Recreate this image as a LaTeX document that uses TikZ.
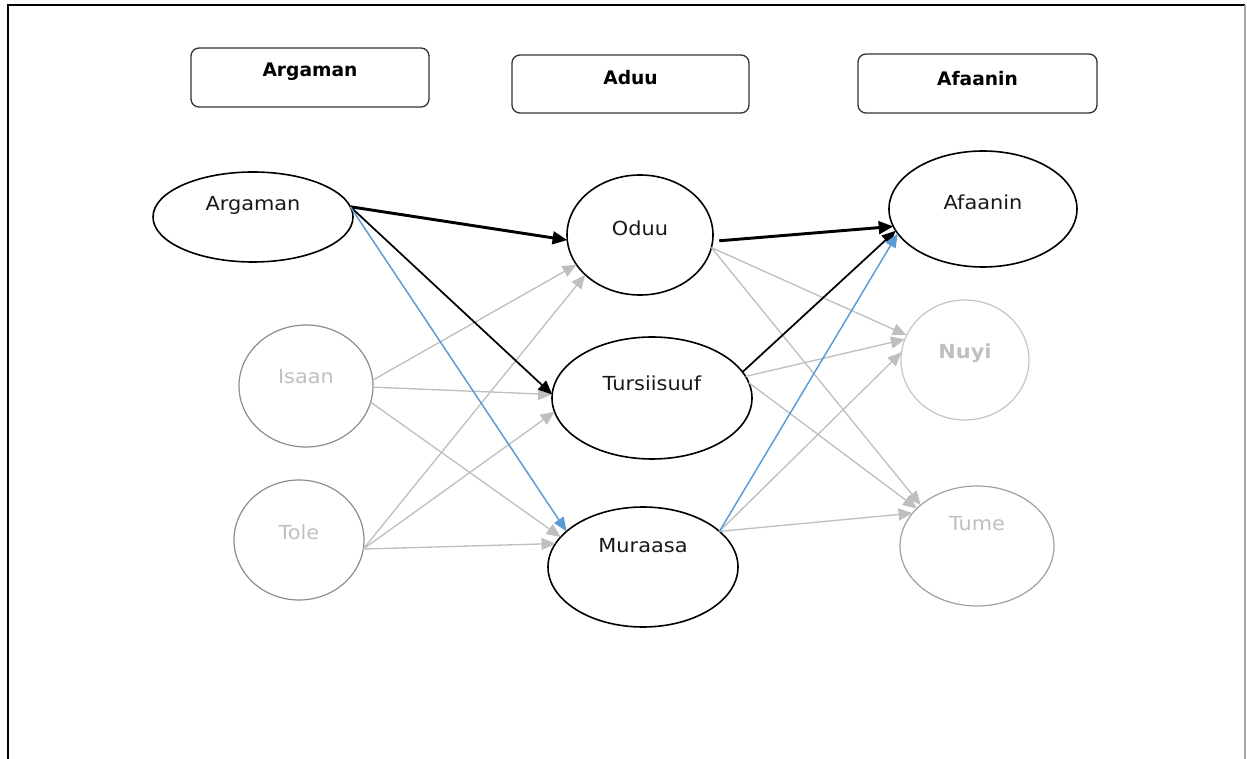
\documentclass[tikz,border=0pt]{standalone}
\usepackage{fontspec}
\usetikzlibrary{shapes.geometric,arrows.meta}
\newfontfamily\lblfont[FakeStretch=1.08]{DejaVu Sans}
\newfontfamily\hdrfont{DejaVu Sans}
\definecolor{linkgray}{HTML}{BFBFBF}
\definecolor{ringgray}{HTML}{8C8C8C}
\definecolor{palegray}{HTML}{C4C4C4}
\definecolor{tumegray}{HTML}{A0A0A0}
\definecolor{linkblue}{HTML}{5B9BD5}
\definecolor{framegray}{HTML}{A6A6A6}
\definecolor{hdrline}{HTML}{333333}

\begin{document}
\begin{tikzpicture}[x=0.75pt,y=-0.75pt,
  oval/.style={ellipse, draw=black, line width=1.2pt, inner sep=0pt, outer sep=0pt},
  paleoval/.style={oval, draw=ringgray, line width=0.9pt},
  hdrbox/.style={draw=hdrline, line width=1pt, rounded corners=6pt, inner sep=0pt, outer sep=0pt},
  lbl/.style={inner sep=0pt, font=\lblfont\fontsize{14.5}{17}\selectfont, text=black!90},
  palelbl/.style={lbl, text=linkgray},
  hdrlbl/.style={inner sep=0pt, font=\hdrfont\bfseries\fontsize{14}{16}\selectfont, text=black},
  heavy/.style={draw=black, line width=2.2pt, -{Triangle[length=11pt,width=9.5pt]}},
  dark/.style={draw=black, line width=1.3pt, -{Triangle[length=10.5pt,width=9pt]}},
  faint/.style={draw=linkgray, line width=1pt, -{Triangle[length=10.5pt,width=9pt]}},
  bluelink/.style={draw=linkblue, line width=1.1pt, -{Triangle[length=10.5pt,width=8.5pt]}}
]
\useasboundingbox (0,0) rectangle (1247,759);

% page frame
\draw[black, line width=1.1pt] (8,759) -- (8,5) -- (1245,5);
\draw[framegray, line width=0.8pt] (1245,5) -- (1245,759);

% column headers
\node[hdrbox, minimum width=238*0.75pt, minimum height=59*0.75pt,
      label={[hdrlbl, yshift=4pt]center:Argaman}] (hargaman) at (310,77.5) {};
\node[hdrbox, minimum width=237*0.75pt, minimum height=58*0.75pt,
      label={[hdrlbl, yshift=4.5pt]center:Aduu}] (haduu) at (630.5,84) {};
\node[hdrbox, minimum width=239*0.75pt, minimum height=59*0.75pt,
      label={[hdrlbl, yshift=3.75pt]center:Afaanin}] (hafaanin) at (977.5,83.5) {};

% left column
\node[oval, minimum width=200*0.75pt, minimum height=90*0.75pt,
      label={[lbl, yshift=9pt]center:Argaman}] (argaman) at (253,217) {};
\node[paleoval, minimum width=134*0.75pt, minimum height=122*0.75pt,
      label={[palelbl, yshift=6.75pt]center:Isaan}] (isaan) at (306,386) {};
\node[paleoval, minimum width=130*0.75pt, minimum height=120*0.75pt,
      label={[palelbl, yshift=6pt]center:Tole}] (tole) at (299,540) {};

% middle column
\node[oval, minimum width=146*0.75pt, minimum height=120*0.75pt,
      label={[lbl, yshift=5.25pt]center:Oduu}] (oduu) at (640,235) {};
\node[oval, minimum width=200*0.75pt, minimum height=122*0.75pt,
      label={[lbl, yshift=11.25pt]center:Tursiisuuf}] (tursiisuuf) at (652,398) {};
\node[oval, minimum width=190*0.75pt, minimum height=120*0.75pt,
      label={[lbl, yshift=15.75pt]center:Muraasa}] (muraasa) at (643,567) {};

% right column
\node[oval, minimum width=188*0.75pt, minimum height=116*0.75pt,
      label={[lbl, yshift=5.25pt]center:Afaanin}] (afaanin) at (983,209) {};
\node[paleoval, draw=palegray, minimum width=128*0.75pt, minimum height=120*0.75pt,
      label={[palelbl, yshift=5.25pt, font=\lblfont\bfseries\fontsize{14.5}{17}\selectfont]center:Nuyi}] (nuyi) at (965,360) {};
\node[paleoval, draw=tumegray, minimum width=154*0.75pt, minimum height=120*0.75pt,
      label={[palelbl, yshift=16.5pt]center:Tume}] (tume) at (977,546) {};

% faint links, left to middle
\draw[faint] (isaan.5) -- (oduu.205);
\draw[faint] (isaan.-1) -- (tursiisuuf.178);
\draw[faint] (isaan.-14) -- (muraasa.160);
\draw[faint] (tole.-8) -- (oduu.216);
\draw[faint] (tole.-8) -- (tursiisuuf.188);
\draw[faint] (tole.-8) -- (muraasa.165);

% faint links, middle to right
\draw[faint] (oduu.-10) -- (nuyi.157);
\draw[faint] (oduu.-10) -- (tume.144);
\draw[faint] (tursiisuuf.13) -- (nuyi.161);
\draw[faint] (tursiisuuf.9) -- (tume.148);
\draw[faint] (muraasa.25) -- (nuyi.173);
\draw[faint] (muraasa.25) -- (tume.153);

% highlighted links
\draw[heavy] (argaman.6) -- (oduu.184);
\draw[heavy, shorten <=5pt] (oduu.-5) -- (afaanin.191);
\draw[dark] (argaman.6) -- (tursiisuuf.178);
\draw[dark] (tursiisuuf.16) -- (afaanin.194);
\draw[bluelink] (argaman.6) -- (muraasa.155);
\draw[bluelink] (muraasa.25) -- (afaanin.196);
\end{tikzpicture}
\end{document}
